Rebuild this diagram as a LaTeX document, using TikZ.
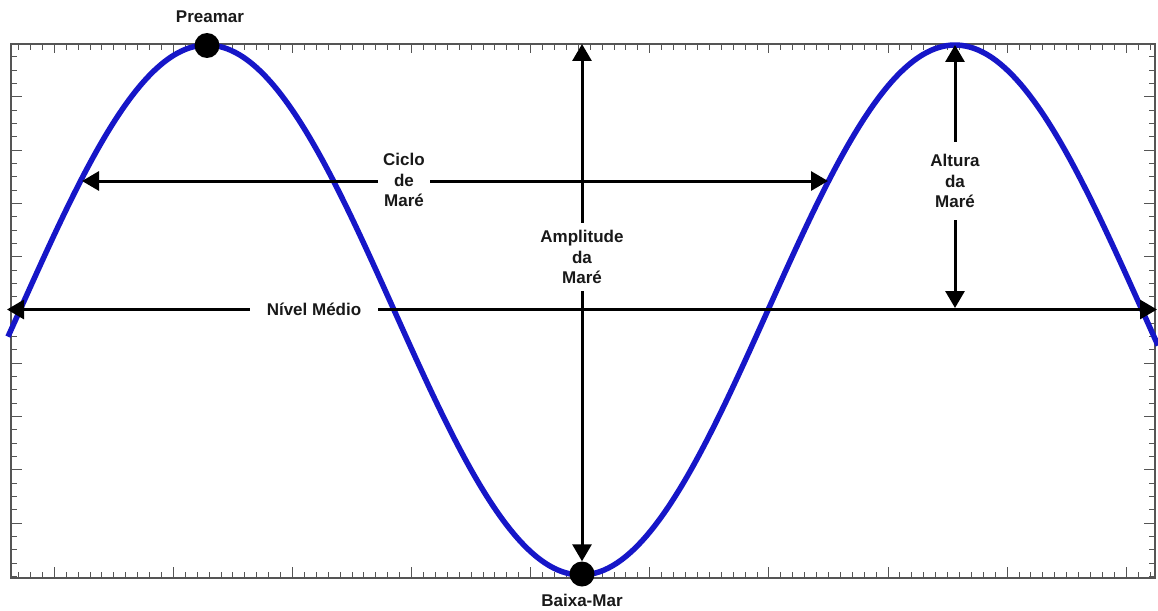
\documentclass[tikz,border=0pt]{standalone}
\usepackage{fontspec}
\setmainfont{Liberation Sans}
\usetikzlibrary{arrows.meta}
\definecolor{tideblue}{RGB}{22,22,200}
\definecolor{framegray}{RGB}{85,85,85}
\tikzset{
  framebox/.style={draw=framegray, line width=1.1pt},
  tickmark/.style={draw=framegray, line width=1pt},
  dimarrow/.style={line width=3pt, black, {Triangle[length=17pt,width=19pt]}-{Triangle[length=17pt,width=19pt]}},
  lbl/.style={font=\bfseries\fontsize{17}{20.5}\selectfont, align=center, text=black!90},
  gaplbl/.style={lbl, fill=white, inner sep=0pt},
  dotnode/.style={circle, fill=black, minimum size=25pt, inner sep=0pt},
  tidecurve/.style={draw=tideblue, line width=5.5pt, line join=round}
}
\begin{document}
\begin{tikzpicture}[x=1pt,y=-1pt]
\useasboundingbox[fill=white] (0,0) rectangle (1158,610);
% frame
\draw[framebox] (11,44) rectangle (1155,578);
% x ticks
\foreach \i in {-3,...,92} {
  \draw[tickmark] ({54.3+11.91*\i},44) -- ++(0,6);
  \draw[tickmark] ({54.3+11.91*\i},578) -- ++(0,-6);
}
\foreach \k in {0,...,9} {
  \draw[tickmark] ({54.3+119.1*\k},44) -- ++(0,9);
  \draw[tickmark] ({54.3+119.1*\k},578) -- ++(0,-11);
}
% y ticks
\foreach \j in {1,...,40} {
  \draw[tickmark] (11,{43.5+13.325*\j}) -- ++(6,0);
  \draw[tickmark] (1155,{43.5+13.325*\j}) -- ++(-6,0);
}
\foreach \k in {1,...,9} {
  \draw[tickmark] (11,{43.5+53.3*\k}) -- ++(11,0);
  \draw[tickmark] (1155,{43.5+53.3*\k}) -- ++(-11,0);
}
% tide curve
\draw[tidecurve] plot[domain=8:1158, samples=300, smooth] (\x,{310-265*sin(0.481283*(\x-20))});
% points
\node[dotnode] (pre) at (207,45.5) {};
\node[dotnode] (baixa) at (582,574) {};
\node[lbl] (preL) at (210,17) {Preamar};
\node[lbl] (baixaL) at (582,600) {Baixa-Mar};
% coordinates
\coordinate (nmL) at (7,309.5);
\coordinate (nmR) at (1157,309.5);
\coordinate (cyL) at (82,181);
\coordinate (cyR) at (828,181);
\coordinate (amT) at (582,44);
\coordinate (alT) at (955,45);
\coordinate (alB) at (955,308);
% arrows
\draw[dimarrow] (nmL) -- (nmR);
\draw[dimarrow] (cyL) -- (cyR);
\draw[dimarrow] (amT) -- (baixa);
\draw[dimarrow] (alT) -- (alB);
% labels
\node[gaplbl, inner xsep=17pt, inner ysep=4pt] (nm) at (314,309) {Nível Médio};
\node[gaplbl, inner xsep=5pt, inner ysep=4pt] (cy) at (404,180) {Ciclo\\de\\Maré};
\node[gaplbl, inner xsep=4pt, inner ysep=7pt] (am) at (582,257) {Amplitude\\da\\Maré};
\node[gaplbl, inner xsep=4pt, inner ysep=12pt] (al) at (955,181) {Altura\\da\\Maré};
\end{tikzpicture}
\end{document}
